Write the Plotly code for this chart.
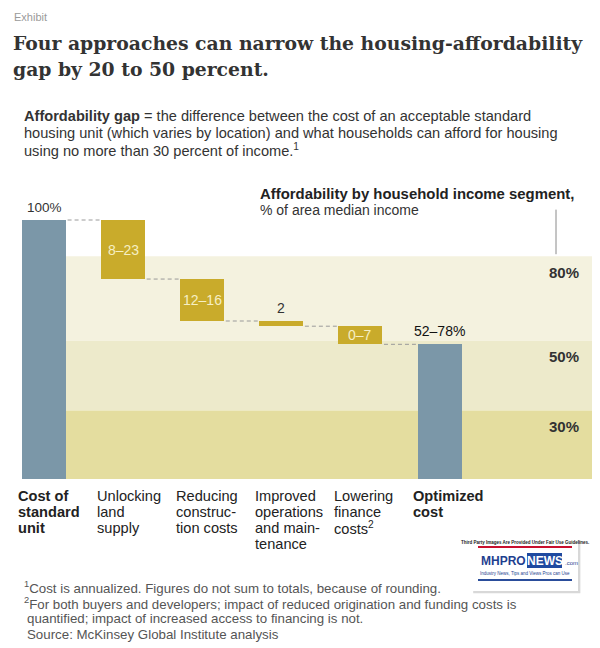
import plotly.graph_objects as go

# ---------------- data ----------------
categories = ["Cost of standard unit", "Unlocking land supply", "Reducing construction costs",
              "Improved operations and maintenance", "Lowering finance costs", "Optimized cost"]
category_lines = [["Cost of", "standard", "unit"],
                  ["Unlocking", "land", "supply"],
                  ["Reducing", "construc-", "tion costs"],
                  ["Improved", "operations", "and main-", "tenance"],
                  ["Lowering", "finance", "costs<sup>2</sup>"],
                  ["Optimized", "cost"]]
category_bold = [True, False, False, False, False, True]
start_value = 100.0
reductions = [22.8, 16.2, 2.0, 7.0]
range_labels = ["100%", "8–23", "12–16", "2", "0–7", "52–78%"]
band_tops = [86.0, 53.4, 26.4]
band_labels = ["80%", "50%", "30%"]

# ---------------- styles ----------------
OFF = 8                      # page body margin of the html page
W, H = 592, 640
PLOT_TOP, PLOT_BOT = 200, 479  # reference pixel rows
BLUE = "#7b97a8"
GOLD = "#c9ab2b"
BAND_COLORS = ["#f4f2df", "#edeacb", "#e4dd9f"]
SANS = "Liberation Sans, Arial, sans-serif"
SERIF = "DejaVu Serif, Georgia, serif"
UNIT = 79.1
BAR_W = 44 / UNIT
X0 = -(44 - OFF) / UNIT
X_RANGE = [X0, X0 + W / UNIT]
Y_RANGE = [0, 100 * (PLOT_BOT - PLOT_TOP) / (PLOT_BOT - 220)]


def paper(xp, yp):
    return (xp - OFF) / W, (PLOT_BOT - yp) / (PLOT_BOT - PLOT_TOP)


def xdata(xp):
    return X0 + (xp - OFF) / UNIT


levels = [start_value]
for r in reductions:
    levels.append(levels[-1] - r)
end_value = levels[-1]

n = len(categories)
xs = list(range(n))

fig = go.Figure()
fig.add_trace(go.Bar(x=[xs[0], xs[-1]], y=[start_value, end_value], base=[0, 0],
                     width=BAR_W, marker=dict(color=BLUE, line=dict(width=0)),
                     hoverinfo="skip", showlegend=False))
fig.add_trace(go.Bar(x=xs[1:-1], y=reductions, base=levels[1:],
                     width=BAR_W, marker=dict(color=GOLD, line=dict(width=0)),
                     hoverinfo="skip", showlegend=False))

shapes = []
# income bands
band_bounds = band_tops + [0]
for i, col in enumerate(BAND_COLORS):
    shapes.append(dict(type="rect", xref="x", yref="y", x0=0, x1=xdata(595),
                       y0=band_bounds[i + 1], y1=band_bounds[i],
                       fillcolor=col, line=dict(width=0), layer="below"))
# dashed connectors
for i in range(n - 1):
    shapes.append(dict(type="line", xref="x", yref="y",
                       x0=xs[i] + BAR_W / 2 + 0.02, x1=xs[i + 1] - BAR_W / 2 - 0.02,
                       y0=levels[i], y1=levels[i],
                       line=dict(color="#9a9a9a", width=1, dash="4px,3px")))
# vertical marker line
vx = (556 - OFF) / W
shapes.append(dict(type="line", xref="paper", yref="y", x0=vx, x1=vx,
                   y0=band_tops[0] + 0.8, y1=104, line=dict(color="#8a8a8a", width=1)))

annotations = []


def txt(xp, yp, text, size, color="#333", bold=False, family=SANS, xanchor="left"):
    x, y = paper(xp, yp)
    if bold:
        text = "<b>" + text + "</b>"
    annotations.append(dict(x=x, y=y, xref="paper", yref="paper", text=text, showarrow=False,
                            xanchor=xanchor, yanchor="middle",
                            font=dict(size=size, color=color, family=family)))


# header
txt(12, 17, "Exhibit", 11, "#9a9a9a", family="Liberation Sans Narrow, Arial Narrow, sans-serif")
txt(11, 43, "Four approaches can narrow the housing-affordability", 18.8, "#333", True, family=SERIF)
txt(11, 69, "gap by 20 to 50 percent.", 18.8, "#333", True, family=SERIF)
txt(22, 116, "<b>Affordability gap</b> = the difference between the cost of an acceptable standard",
    14.6, "#333")
txt(22, 133, "housing unit (which varies by location) and what households can afford for housing",
    14.6, "#333")
txt(22, 150, "using no more than 30 percent of income.<sup>1</sup>", 14.6, "#333")
txt(258, 194, "Affordability by household income segment,", 14.9, "#222", True)
txt(258, 210, "% of area median income", 14, "#333")

# value labels (positions derived from data)
for i in range(n):
    if i == 0:
        lo, hi = 0, start_value
    elif i == n - 1:
        lo, hi = 0, end_value
    else:
        lo, hi = levels[i], levels[i - 1]
    inside = 0 < i < n - 1 and (hi - lo) >= 5
    if inside:
        annotations.append(dict(x=xs[i], y=(hi + lo) / 2, xref="x", yref="y", text=range_labels[i],
                                showarrow=False, xanchor="center", yanchor="middle",
                                font=dict(size=14, color="#f6efc4", family=SANS)))
    else:
        annotations.append(dict(x=xs[i], y=hi, xref="x", yref="y", text=range_labels[i],
                                showarrow=False, xanchor="center", yanchor="bottom", yshift=3,
                                font=dict(size=14 if i else 13.5,
                                          color="#111" if i == n - 1 else "#333", family=SANS)))

# band labels
for top, lab in zip(band_tops, band_labels):
    annotations.append(dict(x=(564 - OFF) / W, y=top, xref="paper", yref="y",
                            text="<b>" + lab + "</b>",
                            showarrow=False, xanchor="center", yanchor="middle", yshift=-16,
                            font=dict(size=15, color="#333", family=SANS)))

# category labels
for i, lines in enumerate(category_lines):
    for j, line in enumerate(lines):
        annotations.append(dict(x=xs[i] - 0.36, y=(PLOT_BOT - (496 + 16 * j)) / (PLOT_BOT - PLOT_TOP),
                                xref="x", yref="paper",
                                text=("<b>" + line + "</b>") if category_bold[i] else line,
                                showarrow=False, xanchor="left", yanchor="middle",
                                font=dict(size=14.6, color="#222", family=SANS)))

# footnotes
txt(22, 587, "<sup>1</sup>Cost is annualized. Figures do not sum to totals, because of rounding.", 13.3, "#555")
txt(22, 603, "<sup>2</sup>For both buyers and developers; impact of reduced origination and funding costs is",
    13.3, "#555")
txt(25, 618, "quantified; impact of increased access to financing is not.", 13.3, "#555")
txt(25, 634, "Source: McKinsey Global Institute analysis", 13.3, "#555")

# watermark logo (approximation)
lx, ly = paper(472, 538)
lx2, ly2 = paper(578, 591)
shapes.append(dict(type="rect", xref="paper", yref="paper", x0=lx + 0.002, x1=lx2 + 0.004,
                   y0=ly2 - 0.008, y1=ly - 0.008, fillcolor="#d8d8d8", line=dict(width=0)))
shapes.append(dict(type="rect", xref="paper", yref="paper", x0=lx, x1=lx2, y0=ly2, y1=ly,
                   fillcolor="white", line=dict(width=0)))
a, b = paper(478, 547)
c, d = paper(572, 547)
shapes.append(dict(type="line", xref="paper", yref="paper", x0=a, x1=c, y0=b, y1=b,
                   line=dict(color="#c8102e", width=2)))
a, b = paper(478, 580)
c, d = paper(572, 580)
shapes.append(dict(type="line", xref="paper", yref="paper", x0=a, x1=c, y0=b, y1=b,
                   line=dict(color="#2a4d9b", width=2)))
nb0x, nb0y = paper(527, 553)
nb1x, nb1y = paper(562, 568)
shapes.append(dict(type="rect", xref="paper", yref="paper", x0=nb0x, x1=nb1x, y0=nb1y, y1=nb0y,
                   fillcolor="#1f4aa0", line=dict(width=0)))
txt(525, 542, "<b>Third Party Images Are Provided Under Fair Use Guidelines.</b>", 4.5, "#222",
    xanchor="center")
txt(503, 561, "<b>MHPRO</b>", 12, "#1f3f8f", xanchor="center",
    family="Liberation Sans Narrow, Arial, sans-serif")
txt(544.5, 561, "<b>NEWS</b>", 12, "white", xanchor="center",
    family="Liberation Sans Narrow, Arial, sans-serif")
txt(563, 563, ".com", 6, "#1f3f8f")
txt(525, 573, "Industry News, Tips and Views Pros can Use", 4.5, "#1f3f8f", xanchor="center")

fig.update_layout(
    width=W, height=H,
    margin=dict(l=0, r=0, t=PLOT_TOP - OFF, b=H - (PLOT_BOT - OFF), pad=0),
    paper_bgcolor="white", plot_bgcolor="rgba(0,0,0,0)",
    xaxis=dict(range=X_RANGE, visible=False, fixedrange=True),
    yaxis=dict(range=Y_RANGE, visible=False, fixedrange=True),
    barmode="overlay", bargap=0,
    shapes=shapes, annotations=annotations,
    showlegend=False,
)

fig.write_html("out.html")
